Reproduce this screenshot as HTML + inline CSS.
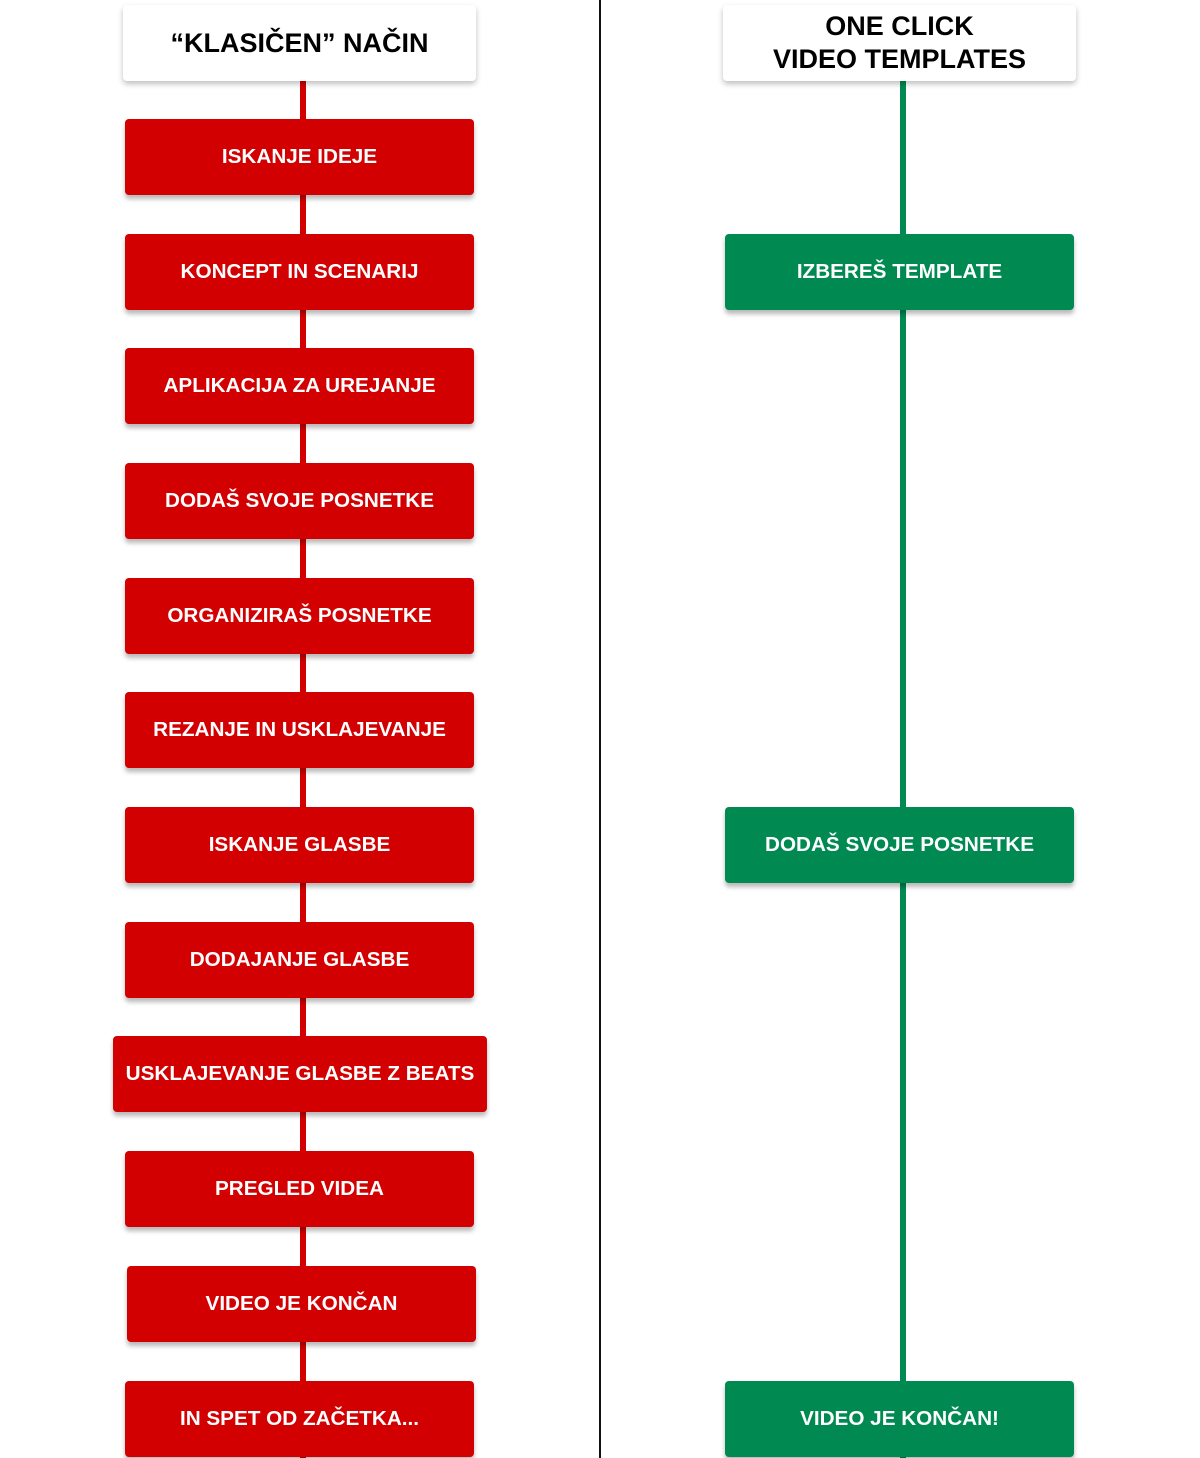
<!DOCTYPE html>
<html><head><meta charset="utf-8"><style>
html,body{margin:0;padding:0;background:#fff;}
body{width:1200px;height:1458px;position:relative;overflow:hidden;font-family:"Liberation Sans",Arial,sans-serif;}
.b{position:absolute;height:76px;border-radius:4px;display:flex;align-items:center;justify-content:center;color:#fff;font-weight:bold;font-size:20.7px;box-shadow:0 4px 5px rgba(0,0,0,0.28);text-align:center;}
.r{background:#d20000;}
.g{background:#008a52;}
.h{position:absolute;top:5px;height:76px;width:353px;background:#fff;border-radius:4px;box-shadow:0 3px 6px rgba(0,0,0,0.25);display:flex;align-items:center;justify-content:center;text-align:center;color:#000;font-weight:bold;font-size:27px;line-height:33px;}
.ln{position:absolute;width:6px;}
</style></head><body>
<div style="position:absolute;left:599px;top:0;width:2px;height:1458px;background:#111"></div>
<div class="ln" style="left:300px;top:80px;height:1378px;background:#d20000"></div>
<div class="ln" style="left:900px;top:80px;height:1378px;background:#008a52"></div>

<div class="h" style="left:123px">“KLASIČEN” NAČIN</div>
<div class="h" style="left:723px">ONE CLICK<br>VIDEO TEMPLATES</div>

<div class="b r" style="left:125px;width:349px;top:119px">ISKANJE IDEJE</div>
<div class="b r" style="left:125px;width:349px;top:234px">KONCEPT IN SCENARIJ</div>
<div class="b r" style="left:125px;width:349px;top:348px">APLIKACIJA ZA UREJANJE</div>
<div class="b r" style="left:125px;width:349px;top:463px">DODAŠ SVOJE POSNETKE</div>
<div class="b r" style="left:125px;width:349px;top:578px">ORGANIZIRAŠ POSNETKE</div>
<div class="b r" style="left:125px;width:349px;top:692px">REZANJE IN USKLAJEVANJE</div>
<div class="b r" style="left:125px;width:349px;top:807px">ISKANJE GLASBE</div>
<div class="b r" style="left:125px;width:349px;top:922px">DODAJANJE GLASBE</div>
<div class="b r" style="left:113px;width:374px;top:1036px">USKLAJEVANJE GLASBE Z BEATS</div>
<div class="b r" style="left:125px;width:349px;top:1151px">PREGLED VIDEA</div>
<div class="b r" style="left:127px;width:349px;top:1266px">VIDEO JE KONČAN</div>
<div class="b r" style="left:125px;width:349px;top:1381px">IN SPET OD ZAČETKA...</div>

<div class="b g" style="left:725px;width:349px;top:234px">IZBEREŠ TEMPLATE</div>
<div class="b g" style="left:725px;width:349px;top:807px">DODAŠ SVOJE POSNETKE</div>
<div class="b g" style="left:725px;width:349px;top:1381px">VIDEO JE KONČAN!</div>
</body></html>
